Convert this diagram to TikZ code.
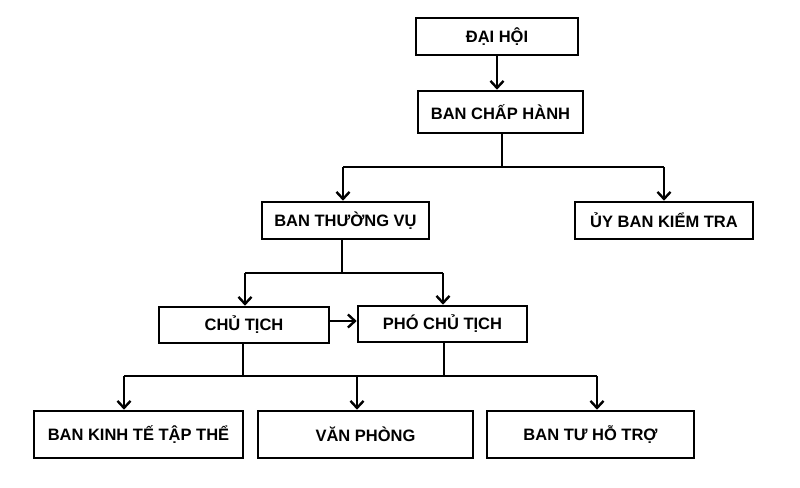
\documentclass[tikz,border=0pt]{standalone}
\usepackage{fontspec}
\setmainfont{Liberation Sans}
\usetikzlibrary{arrows.meta}
\begin{document}
\begin{tikzpicture}[x=1pt,y=-1pt,
  box/.style={draw=black, line width=2.6pt, fill=white, inner sep=0pt, font=\fontsize{16.5}{19}\selectfont\bfseries, align=center},
  conn/.style={line width=2.4pt, line join=miter},
  arr/.style={conn, -{Straight Barb[length=7pt,width=13pt,line width=2.4pt]}}]
\useasboundingbox (0,0) rectangle (800,487);
\fill[white] (0,0) rectangle (800,487);
% boxes
\node[box, minimum width=162pt, minimum height=37pt] (dh) at (497,36.5) {ĐẠI HỘI};
\node[box, minimum width=165pt, minimum height=42pt] (bch) at (500.5,112) {BAN CHẤP HÀNH};
\node[box, minimum width=167pt, minimum height=37pt] (btv) at (345.5,220.5) {BAN THƯỜNG VỤ};
\node[box, minimum width=178pt, minimum height=37pt] (ubkt) at (664,220.5) {ỦY BAN KIỂM TRA};
\node[box, minimum width=170pt, minimum height=36pt] (ct) at (244,325) {CHỦ TỊCH};
\node[box, minimum width=169pt, minimum height=36pt] (pct) at (442.5,324) {PHÓ CHỦ TỊCH};
\node[box, minimum width=209pt, minimum height=47pt] (bkt) at (138.5,434.5) {BAN KINH TẾ TẬP THỂ};
\node[box, minimum width=215pt, minimum height=47pt] (vp) at (365.5,434.5) {VĂN PHÒNG};
\node[box, minimum width=207pt, minimum height=47pt] (bth) at (590.5,434.5) {BAN TƯ HỖ TRỢ};
% junction coordinates
\coordinate (j1) at (502,167);
\coordinate (j1l) at (343,167);
\coordinate (j1r) at (664,167);
\coordinate (j2) at (342,273);
\coordinate (j2l) at (245,273);
\coordinate (j2r) at (443,273);
\coordinate (j3l) at (124,376);
\coordinate (j3m) at (357,376);
\coordinate (j3r) at (597,376);
\coordinate (j3a) at (243,376);
\coordinate (j3b) at (444,376);
% connectors
\draw[arr] (dh.south) -- (dh.south |- bch.north);
\draw[conn] (bch.south -| j1) -- (j1);
\draw[conn] (j1l) -- (j1r);
\draw[arr] (j1l) -- (j1l |- btv.north);
\draw[arr] (j1r) -- (j1r |- ubkt.north);
\draw[conn] (btv.south -| j2) -- (j2);
\draw[conn] (j2l) -- (j2r);
\draw[arr] (j2l) -- (j2l |- ct.north);
\draw[arr] (j2r) -- (j2r |- pct.north);
\draw[arr] (ct.east |- 0,321) -- (pct.west |- 0,321);
\draw[conn] (ct.south -| j3a) -- (j3a);
\draw[conn] (pct.south -| j3b) -- (j3b);
\draw[conn] (j3l) -- (j3r);
\draw[arr] (j3l) -- (j3l |- bkt.north);
\draw[arr] (j3m) -- (j3m |- vp.north);
\draw[arr] (j3r) -- (j3r |- bth.north);
\end{tikzpicture}
\end{document}
